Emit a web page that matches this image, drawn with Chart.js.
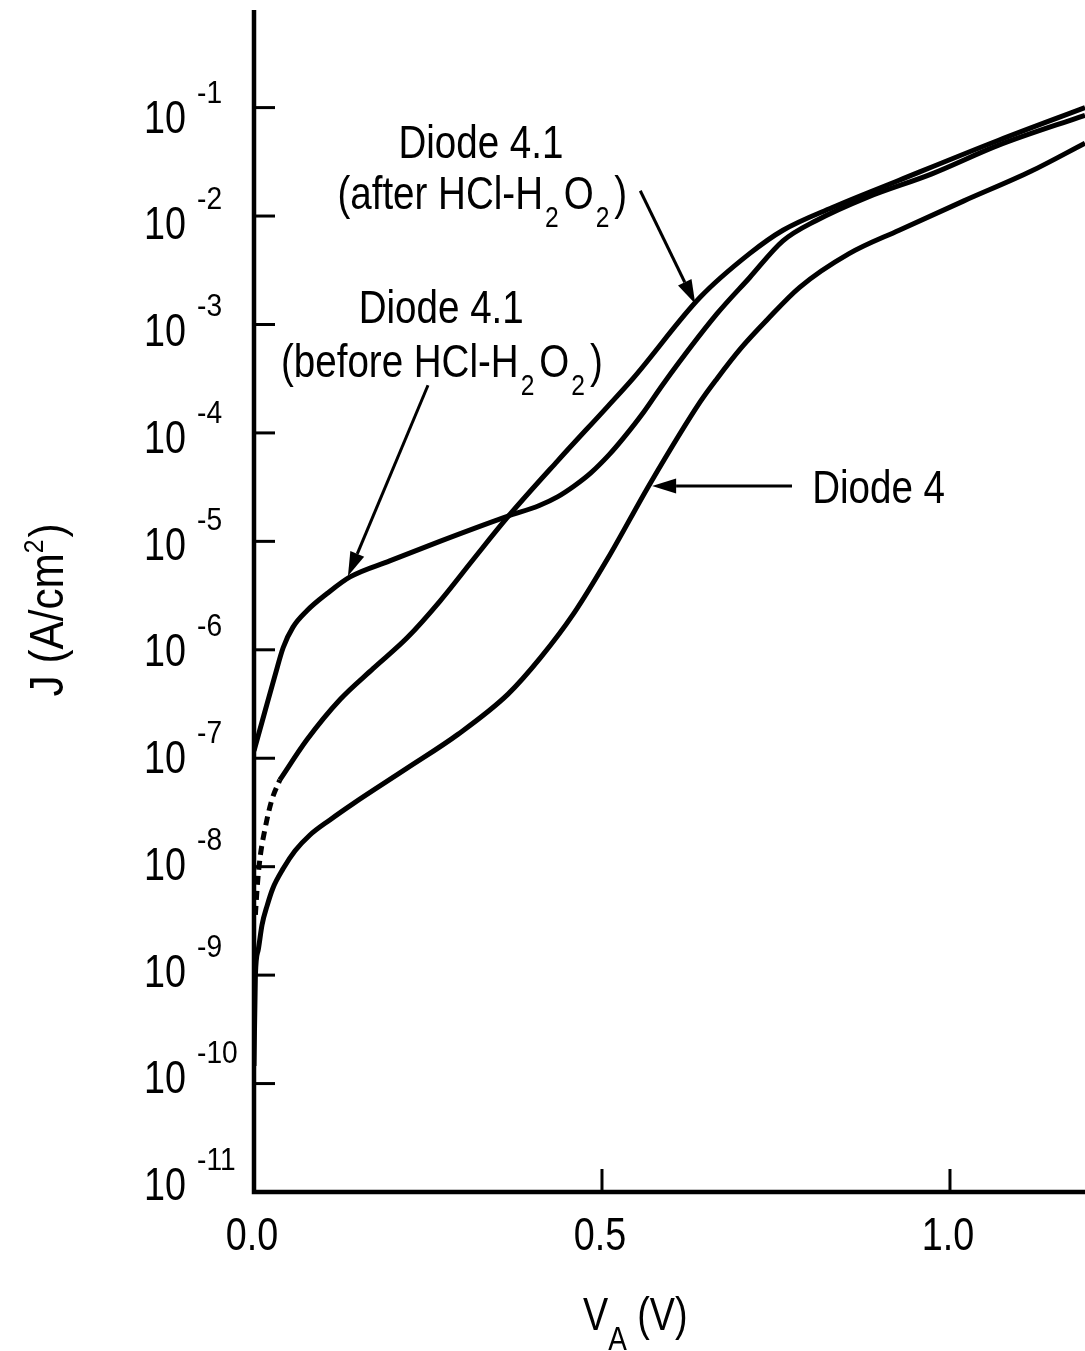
<!DOCTYPE html>
<html>
<head>
<meta charset="utf-8">
<script src="https://cdn.jsdelivr.net/npm/chart.js@4.4.1/dist/chart.umd.min.js"></script>
<style>
html,body{margin:0;padding:0;background:#fff;}
#wrap{width:1085px;height:1351px;position:relative;}
canvas{display:block;}
</style>
</head>
<body>
<div id="wrap"><canvas id="c" width="1085" height="1351"></canvas></div>
<script>
// ---- Data (V in volts, J in A/cm^2) ----
const vBefore = [0, 0.015, 0.03, 0.042, 0.056, 0.076, 0.105, 0.138, 0.195, 0.267, 0.364, 0.41, 0.436, 0.46, 0.484, 0.51, 0.531, 0.56, 0.588, 0.665, 0.712, 0.760, 0.808, 0.88, 0.974, 1.07, 1.194];
const jBefore = [1.17e-7, 2.6e-7, 5.75e-7, 1.05e-6, 1.62e-6, 2.29e-6, 3.3e-6, 4.7e-6, 6.6e-6, 1.0e-5, 1.7e-5, 2.14e-5, 2.57e-5, 3.24e-5, 4.28e-5, 6.27e-5, 9.0e-5, 1.56e-4, 2.83e-4, 1.25e-3, 2.7e-3, 5.9e-3, 9.1e-3, 1.48e-2, 2.45e-2, 4.5e-2, 8.5e-2];

const vAfter = [0.037, 0.076, 0.124, 0.171, 0.220, 0.267, 0.315, 0.364, 0.436, 0.508, 0.545, 0.641, 0.712, 0.760, 0.831, 0.927, 1.07, 1.194];
const jAfter = [6.3e-8, 1.48e-7, 3.5e-7, 6.7e-7, 1.29e-6, 2.8e-6, 6.8e-6, 1.66e-5, 5.5e-5, 1.75e-4, 3.2e-4, 1.78e-3, 4.5e-3, 7.4e-3, 1.2e-2, 2.14e-2, 5.0e-2, 1.0e-1];

const vAfterDashed = [0.002, 0.005, 0.009, 0.015, 0.025, 0.037];
const jAfterDashed = [3.6e-9, 7.0e-9, 1.25e-8, 2.1e-8, 4.0e-8, 6.3e-8];

const vDiode4 = [0, 0.002, 0.006, 0.0115, 0.019, 0.027, 0.042, 0.059, 0.080, 0.109, 0.142, 0.220, 0.293, 0.365, 0.412, 0.459, 0.508, 0.569, 0.641, 0.665, 0.70, 0.737, 0.784, 0.855, 0.927, 1.02, 1.117, 1.194];
const jDiode4 = [1.45e-10, 1.0e-9, 1.7e-9, 2.9e-9, 4.4e-9, 6.3e-9, 9.6e-9, 1.4e-8, 1.95e-8, 2.7e-8, 3.8e-8, 8.1e-8, 1.66e-7, 3.9e-7, 8.5e-7, 2.14e-6, 6.9e-6, 3.4e-5, 1.93e-4, 3.15e-4, 6.08e-4, 1.1e-3, 2.2e-3, 4.5e-3, 7.4e-3, 1.38e-2, 2.6e-2, 4.7e-2];

const yTickExponents = [-1, -2, -3, -4, -5, -6, -7, -8, -9, -10, -11];
const xTickValues = [0.0, 0.5, 1.0];
const xTickLabels = ['0.0', '0.5', '1.0'];

const xMin = 0, xMax = 1.194;
const yMin = 1e-11, yMax = Math.pow(10, -0.1);

// ---- helpers ----
const FONT = '"Liberation Sans", Arial, Helvetica, sans-serif';
function pts(xs, ys) { return xs.map((x, i) => ({x: x, y: ys[i]})); }

function seq(ctx, x, y, items, align, sx) {
  const specs = items.map(it => {
    ctx.font = it.size + 'px ' + FONT;
    return Object.assign({dy: 0, gap: 0}, it, {w: ctx.measureText(it.t).width * sx});
  });
  const total = specs.reduce((a, s) => a + s.w + s.gap, 0);
  let cx = align === 'center' ? x - total / 2 : (align === 'right' ? x - total : x);
  for (const s of specs) {
    ctx.save();
    ctx.font = s.size + 'px ' + FONT;
    ctx.textAlign = 'left';
    ctx.textBaseline = 'alphabetic';
    ctx.translate(cx, y + s.dy);
    ctx.scale(sx, 1);
    ctx.fillText(s.t, 0, 0);
    ctx.restore();
    cx += s.w + s.gap;
  }
}

function arrow(ctx, x1, y1, x2, y2) {
  const ang = Math.atan2(y2 - y1, x2 - x1);
  const hl = 24, hw = 7.5;
  const bx = x2 - hl * Math.cos(ang), by = y2 - hl * Math.sin(ang);
  ctx.save();
  ctx.strokeStyle = '#000';
  ctx.fillStyle = '#000';
  ctx.lineWidth = 3;
  ctx.beginPath();
  ctx.moveTo(x1, y1);
  ctx.lineTo(bx, by);
  ctx.stroke();
  ctx.beginPath();
  ctx.moveTo(x2, y2);
  ctx.lineTo(bx + hw * Math.sin(ang), by - hw * Math.cos(ang));
  ctx.lineTo(bx - hw * Math.sin(ang), by + hw * Math.cos(ang));
  ctx.closePath();
  ctx.fill();
  ctx.restore();
}

// annotation anchors in data units [V, J]
const annot = {
  afterL1: [0.326, 3.44e-2],
  afterL2: [0.328, 1.16e-2],
  beforeL1: [0.269, 1.035e-3],
  beforeL2: [0.270, 3.29e-4],
  diode4: [0.802, 2.26e-5],
  arrowAfter: {from: [0.555, 1.71e-2], to: [0.634, 1.55e-3]},
  arrowBefore: {from: [0.25, 2.75e-4], to: [0.135, 4.8e-6]},
  arrowDiode4: {from: [0.773, 3.24e-5], to: [0.572, 3.24e-5]}
};

const decor = {
  id: 'decor',
  beforeDraw(chart) {
    const ctx = chart.ctx;
    ctx.save();
    ctx.fillStyle = '#fff';
    ctx.fillRect(0, 0, chart.width, chart.height);
    ctx.restore();
  },
  afterDatasetsDraw(chart) {
    const ctx = chart.ctx;
    const a = chart.chartArea;
    const xs = chart.scales.x, ys = chart.scales.y;
    const P = (v, j) => [xs.getPixelForValue(v), ys.getPixelForValue(j)];
    ctx.save();
    ctx.strokeStyle = '#000';
    ctx.fillStyle = '#000';
    ctx.lineCap = 'butt';
    // axes
    ctx.lineWidth = 4.5;
    ctx.beginPath();
    ctx.moveTo(a.left, a.top);
    ctx.lineTo(a.left, a.bottom);
    ctx.lineTo(a.right, a.bottom);
    ctx.stroke();
    // y ticks (inward)
    ctx.lineWidth = 3;
    yTickExponents.forEach(e => {
      if (e === -11) return;
      const y = ys.getPixelForValue(Math.pow(10, e));
      ctx.beginPath();
      ctx.moveTo(a.left, y);
      ctx.lineTo(a.left + 21, y);
      ctx.stroke();
    });
    // x ticks (inward)
    xTickValues.forEach(v => {
      if (v === 0) return;
      const x = xs.getPixelForValue(v);
      ctx.beginPath();
      ctx.moveTo(x, a.bottom);
      ctx.lineTo(x, a.bottom - 23);
      ctx.stroke();
    });
    // y tick labels
    yTickExponents.forEach((e, k) => {
      const y = ys.getPixelForValue(Math.pow(10, e)) + 25 - 1.7 * k;
      seq(ctx, a.left - 110, y, [{t: '10', size: 46}], 'left', 0.82);
      seq(ctx, a.left - 57, y - 30, [{t: String(e), size: 32}], 'left', 0.88);
    });
    // x tick labels
    xTickValues.forEach((v, i) => {
      const x = xs.getPixelForValue(v) - 2;
      seq(ctx, x, a.bottom + 58, [{t: xTickLabels[i], size: 46}], 'center', 0.82);
    });
    // x title
    seq(ctx, 583, a.bottom + 138, [
      {t: 'V', size: 46},
      {t: 'A', size: 34, dy: 20},
      {t: ' (V)', size: 46}
    ], 'left', 0.82);
    // y title
    ctx.save();
    ctx.translate(63, 610);
    ctx.rotate(-Math.PI / 2);
    seq(ctx, 0, 0, [
      {t: 'J (A/cm', size: 48},
      {t: '2', size: 28, dy: -20, gap: 2},
      {t: ')', size: 48}
    ], 'center', 0.88);
    ctx.restore();

    // annotations
    const sub = (t) => ({t: t, size: 30, dy: 18, gap: 5});
    let p;
    p = P(...annot.afterL1);
    seq(ctx, p[0], p[1], [{t: 'Diode 4.1', size: 47}], 'center', 0.82);
    p = P(...annot.afterL2);
    seq(ctx, p[0], p[1], [
      {t: '(after HCl-H', size: 47, gap: 2},
      sub('2'),
      {t: 'O', size: 47, gap: 2},
      sub('2'),
      {t: ')', size: 47}
    ], 'center', 0.82);
    p = P(...annot.beforeL1);
    seq(ctx, p[0], p[1], [{t: 'Diode 4.1', size: 47}], 'center', 0.82);
    p = P(...annot.beforeL2);
    seq(ctx, p[0], p[1], [
      {t: '(before HCl-H', size: 47, gap: 2},
      sub('2'),
      {t: 'O', size: 47, gap: 2},
      sub('2'),
      {t: ')', size: 47}
    ], 'center', 0.82);
    p = P(...annot.diode4);
    seq(ctx, p[0], p[1], [{t: 'Diode 4', size: 47}], 'left', 0.82);

    [annot.arrowAfter, annot.arrowBefore, annot.arrowDiode4].forEach(ar => {
      const f = P(...ar.from), t = P(...ar.to);
      arrow(ctx, f[0], f[1], t[0], t[1]);
    });
    ctx.restore();
  }
};

const lineStyle = {
  borderColor: '#000',
  backgroundColor: '#000',
  borderWidth: 5,
  pointRadius: 0,
  pointHoverRadius: 0,
  fill: false,
  cubicInterpolationMode: 'monotone'
};

new Chart(document.getElementById('c'), {
  type: 'line',
  data: {
    datasets: [
      Object.assign({label: 'Diode 4.1 (before HCl-H2O2)', data: pts(vBefore, jBefore)}, lineStyle),
      Object.assign({label: 'Diode 4.1 (after HCl-H2O2)', data: pts(vAfter, jAfter)}, lineStyle),
      Object.assign({label: 'Diode 4.1 (after, extrapolated)', data: pts(vAfterDashed, jAfterDashed), borderDash: [9, 6]}, lineStyle),
      Object.assign({label: 'Diode 4', data: pts(vDiode4, jDiode4)}, lineStyle)
    ]
  },
  options: {
    responsive: false,
    devicePixelRatio: 1,
    animation: false,
    layout: {padding: {left: 254, top: 10, right: 0, bottom: 159}},
    scales: {
      x: {type: 'linear', min: xMin, max: xMax, display: false},
      y: {type: 'logarithmic', min: yMin, max: yMax, display: false}
    },
    plugins: {
      legend: {display: false},
      tooltip: {enabled: false}
    },
    events: []
  },
  plugins: [decor]
});
</script>
</body>
</html>
